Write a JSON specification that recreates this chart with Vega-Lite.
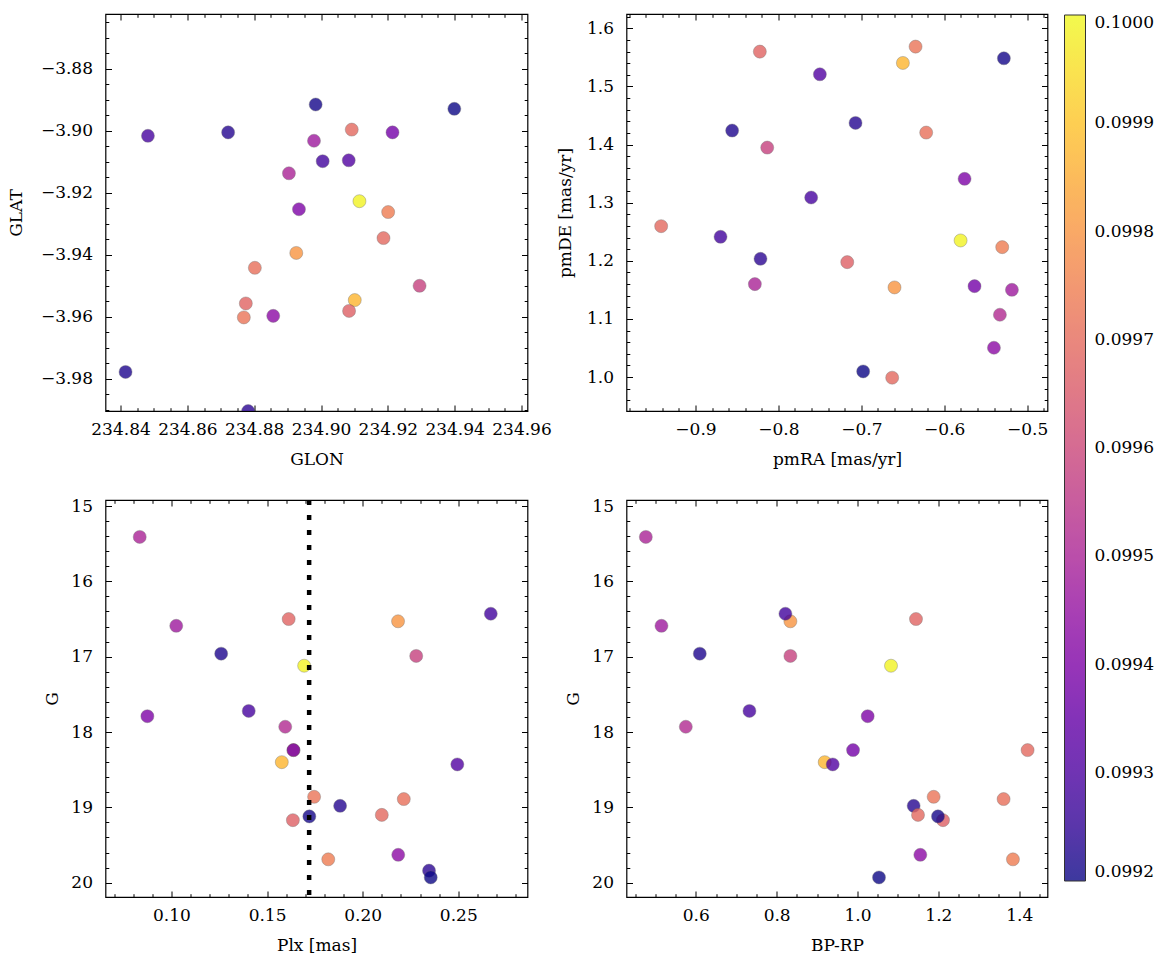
{
  "$schema": "https://vega.github.io/schema/vega-lite/v6.json",
  "background": "white",
  "padding": {"left": 6.5, "top": 7, "right": 5, "bottom": 5},
  "config": {
    "view": {"stroke": "black", "strokeWidth": 1.2},
    "axis": {
      "domain": false, "grid": false,
      "tickColor": "black", "tickWidth": 1, "tickSize": -6,
      "labelFont": "DejaVu Serif", "labelFontSize": 17, "labelColor": "black",
      "titleFont": "DejaVu Serif", "titleFontSize": 17, "titleFontWeight": "normal", "titleColor": "black",
      "labelFlush": false, "labelOverlap": false
    },
    "axisX": {"labelPadding": 16.6, "titlePadding": 14},
    "axisY": {"labelPadding": 19, "titlePadding": 12},
    "legend": {"labelFont": "DejaVu Serif", "labelFontSize": 17, "labelColor": "black"}
  },
  "datasets": {
    "stars": [
      {"id": 1, "GLON": 234.8904, "GLAT": -3.9137, "pmRA": -0.8284, "pmDE": 1.1599, "Plx": 0.0834, "G": 15.41, "BPRP": 0.4764, "c": 0.09950},
      {"id": 2, "GLON": 234.8979, "GLAT": -3.9032, "pmRA": -0.5184, "pmDE": 1.1501, "Plx": 0.1025, "G": 16.59, "BPRP": 0.5151, "c": 0.09947},
      {"id": 3, "GLON": 234.8415, "GLAT": -3.9778, "pmRA": -0.8558, "pmDE": 1.4241, "Plx": 0.1260, "G": 16.96, "BPRP": 0.6099, "c": 0.09922},
      {"id": 4, "GLON": 234.8934, "GLAT": -3.9253, "pmRA": -0.5755, "pmDE": 1.3410, "Plx": 0.0874, "G": 17.79, "BPRP": 1.0252, "c": 0.09940},
      {"id": 5, "GLON": 234.8482, "GLAT": -3.9016, "pmRA": -0.7605, "pmDE": 1.3089, "Plx": 0.1404, "G": 17.72, "BPRP": 0.7327, "c": 0.09929},
      {"id": 6, "GLON": 234.8775, "GLAT": -3.9557, "pmRA": -0.8224, "pmDE": 1.5599, "Plx": 0.1613, "G": 16.50, "BPRP": 1.1447, "c": 0.09968},
      {"id": 7, "GLON": 234.9115, "GLAT": -3.9227, "pmRA": -0.5803, "pmDE": 1.2350, "Plx": 0.1694, "G": 17.12, "BPRP": 1.0829, "c": 0.09999},
      {"id": 8, "GLON": 234.8890, "GLAT": -3.9980, "pmRA": -0.5329, "pmDE": 1.1072, "Plx": 0.1595, "G": 17.93, "BPRP": 0.5753, "c": 0.09952},
      {"id": 25, "GLON": 234.9187, "GLAT": -3.9346, "pmRA": -0.6628, "pmDE": 0.9989, "Plx": 0.1638, "G": 18.24, "BPRP": 1.4208, "c": 0.09969},
      {"id": 9, "GLON": 234.9214, "GLAT": -3.9005, "pmRA": -0.5635, "pmDE": 1.1564, "Plx": 0.1638, "G": 18.24, "BPRP": 0.9890, "c": 0.09938},
      {"id": 10, "GLON": 234.9101, "GLAT": -3.9546, "pmRA": -0.6499, "pmDE": 1.5404, "Plx": 0.1577, "G": 18.40, "BPRP": 0.9189, "c": 0.09987},
      {"id": 11, "GLON": 234.8926, "GLAT": -3.9394, "pmRA": -0.6600, "pmDE": 1.1542, "Plx": 0.2185, "G": 16.53, "BPRP": 0.8340, "c": 0.09980},
      {"id": 12, "GLON": 234.9295, "GLAT": -3.9500, "pmRA": -0.8135, "pmDE": 1.3948, "Plx": 0.2280, "G": 16.99, "BPRP": 0.8340, "c": 0.09958},
      {"id": 13, "GLON": 234.9005, "GLAT": -3.9098, "pmRA": -0.8698, "pmDE": 1.2413, "Plx": 0.2670, "G": 16.43, "BPRP": 0.8217, "c": 0.09928},
      {"id": 14, "GLON": 234.9083, "GLAT": -3.9095, "pmRA": -0.7500, "pmDE": 1.5209, "Plx": 0.2495, "G": 18.43, "BPRP": 0.9387, "c": 0.09931},
      {"id": 15, "GLON": 234.8769, "GLAT": -3.9602, "pmRA": -0.6346, "pmDE": 1.5685, "Plx": 0.1746, "G": 18.86, "BPRP": 1.1884, "c": 0.09972},
      {"id": 16, "GLON": 234.8722, "GLAT": -3.9005, "pmRA": -0.7070, "pmDE": 1.4372, "Plx": 0.1882, "G": 18.98, "BPRP": 1.1389, "c": 0.09923},
      {"id": 17, "GLON": 234.8802, "GLAT": -3.9442, "pmRA": -0.6218, "pmDE": 1.4206, "Plx": 0.2215, "G": 18.89, "BPRP": 1.3614, "c": 0.09971},
      {"id": 18, "GLON": 234.9092, "GLAT": -3.8996, "pmRA": -0.9414, "pmDE": 1.2596, "Plx": 0.2100, "G": 19.10, "BPRP": 1.1497, "c": 0.09969},
      {"id": 19, "GLON": 234.9084, "GLAT": -3.9581, "pmRA": -0.7170, "pmDE": 1.1977, "Plx": 0.1635, "G": 19.17, "BPRP": 1.2115, "c": 0.09967},
      {"id": 20, "GLON": 234.8984, "GLAT": -3.8915, "pmRA": -0.5281, "pmDE": 1.5484, "Plx": 0.1721, "G": 19.12, "BPRP": 1.1991, "c": 0.09921},
      {"id": 21, "GLON": 234.9201, "GLAT": -3.9262, "pmRA": -0.5301, "pmDE": 1.2235, "Plx": 0.1820, "G": 19.69, "BPRP": 1.3845, "c": 0.09974},
      {"id": 22, "GLON": 234.8857, "GLAT": -3.9597, "pmRA": -0.5401, "pmDE": 1.0504, "Plx": 0.2186, "G": 19.63, "BPRP": 1.1554, "c": 0.09943},
      {"id": 23, "GLON": 234.8782, "GLAT": -3.9904, "pmRA": -0.8216, "pmDE": 1.2034, "Plx": 0.2347, "G": 19.84, "BPRP": null, "c": 0.09924},
      {"id": 24, "GLON": 234.9399, "GLAT": -3.8929, "pmRA": -0.6978, "pmDE": 1.0097, "Plx": 0.2356, "G": 19.93, "BPRP": 1.0532, "c": 0.09920}
    ],
    "cut": [{"Plx_cut": 0.172}]
  },
  "bounds": "flush",
  "columns": 2,
  "spacing": {"row": 89, "column": 99},
  "concat": [
    {
      "width": 422, "height": 397,
      "data": {"name": "stars"},
      "layer": [
        {
          "mark": {"type": "circle", "size": 170, "opacity": 0.8, "stroke": "#555555", "strokeWidth": 0.4, "clip": true},
          "encoding": {
            "x": {"field": "GLON", "type": "quantitative", "scale": {"domain": [234.8355, 234.9618], "nice": false, "zero": false},
              "axis": {"title": "GLON", "orient": "bottom",
                "values": [234.84,234.845,234.85,234.855,234.86,234.865,234.87,234.875,234.88,234.885,234.89,234.895,234.9,234.905,234.91,234.915,234.92,234.925,234.93,234.935,234.94,234.945,234.95,234.955,234.96],
                "labelExpr": "abs(datum.value*50 - round(datum.value*50)) < 0.001 ? format(datum.value, '.2f') : ''",
                "tickDash": {"condition": {"test": "abs(datum.value*50 - round(datum.value*50)) > 0.001", "value": [3.3, 30]}, "value": []}}},
            "y": {"field": "GLAT", "type": "quantitative", "scale": {"domain": [-3.9904, -3.8623], "nice": false, "zero": false},
              "axis": {"title": "GLAT", "orient": "left", "titlePadding": 14.5,
                "values": [-3.865,-3.87,-3.875,-3.88,-3.885,-3.89,-3.895,-3.9,-3.905,-3.91,-3.915,-3.92,-3.925,-3.93,-3.935,-3.94,-3.945,-3.95,-3.955,-3.96,-3.965,-3.97,-3.975,-3.98,-3.985,-3.99],
                "labelExpr": "abs(datum.value*50 - round(datum.value*50)) < 0.001 ? format(datum.value, '.2f') : ''",
                "tickDash": {"condition": {"test": "abs(datum.value*50 - round(datum.value*50)) > 0.001", "value": [3.3, 30]}, "value": []}}},
            "color": {"field": "c", "type": "quantitative", "scale": {"scheme": "plasma", "domain": [0.0992, 0.1]},
              "legend": {"title": null, "orient": "none", "legendX": 959, "legendY": 1, "direction": "vertical", "gradientLength": 866, "gradientThickness": 21,
                "values": [0.0992,0.0993,0.0994,0.0995,0.0996,0.0997,0.0998,0.0999,0.1], "format": ".4f",
                "gradientStrokeColor": "black", "gradientStrokeWidth": 1, "labelOffset": 9, "labelBaseline": "middle"}}
          }
        },
        {
          "mark": {"type": "circle", "opacity": 0},
          "encoding": {
            "x": {"field": "GLON", "type": "quantitative", "scale": {"domain": [234.8355, 234.9618], "nice": false, "zero": false},
              "axis": {"title": null, "orient": "top", "labels": false,
                "values": [234.84,234.845,234.85,234.855,234.86,234.865,234.87,234.875,234.88,234.885,234.89,234.895,234.9,234.905,234.91,234.915,234.92,234.925,234.93,234.935,234.94,234.945,234.95,234.955,234.96],
                "tickDash": {"condition": {"test": "abs(datum.value*50 - round(datum.value*50)) > 0.001", "value": [3.3, 30]}, "value": []}}},
            "y": {"field": "GLAT", "type": "quantitative", "scale": {"domain": [-3.9904, -3.8623], "nice": false, "zero": false},
              "axis": {"title": null, "orient": "right", "labels": false,
                "values": [-3.865,-3.87,-3.875,-3.88,-3.885,-3.89,-3.895,-3.9,-3.905,-3.91,-3.915,-3.92,-3.925,-3.93,-3.935,-3.94,-3.945,-3.95,-3.955,-3.96,-3.965,-3.97,-3.975,-3.98,-3.985,-3.99],
                "tickDash": {"condition": {"test": "abs(datum.value*50 - round(datum.value*50)) > 0.001", "value": [3.3, 30]}, "value": []}}}
          }
        }
      ],
      "resolve": {"axis": {"x": "independent", "y": "independent"}}
    },
    {
      "width": 421, "height": 397,
      "data": {"name": "stars"},
      "layer": [
        {
          "mark": {"type": "circle", "size": 170, "opacity": 0.8, "stroke": "#555555", "strokeWidth": 0.4, "clip": true},
          "encoding": {
            "x": {"field": "pmRA", "type": "quantitative", "scale": {"domain": [-0.9832, -0.4755], "nice": false, "zero": false},
              "axis": {"title": "pmRA [mas/yr]", "orient": "bottom",
                "values": [-0.98,-0.96,-0.94,-0.92,-0.9,-0.88,-0.86,-0.84,-0.82,-0.8,-0.78,-0.76,-0.74,-0.72,-0.7,-0.68,-0.66,-0.64,-0.62,-0.6,-0.58,-0.56,-0.54,-0.52,-0.5,-0.48],
                "labelExpr": "abs(datum.value*10 - round(datum.value*10)) < 0.001 ? format(datum.value, '.1f') : ''",
                "tickDash": {"condition": {"test": "abs(datum.value*10 - round(datum.value*10)) > 0.001", "value": [3.3, 30]}, "value": []}}},
            "y": {"field": "pmDE", "type": "quantitative", "scale": {"domain": [0.9416, 1.6246], "nice": false, "zero": false},
              "axis": {"title": "pmDE [mas/yr]", "orient": "left", "titlePadding": 12,
                "values": [0.96,0.98,1.0,1.02,1.04,1.06,1.08,1.1,1.12,1.14,1.16,1.18,1.2,1.22,1.24,1.26,1.28,1.3,1.32,1.34,1.36,1.38,1.4,1.42,1.44,1.46,1.48,1.5,1.52,1.54,1.56,1.58,1.6,1.62],
                "labelExpr": "abs(datum.value*10 - round(datum.value*10)) < 0.001 ? format(datum.value, '.1f') : ''",
                "tickDash": {"condition": {"test": "abs(datum.value*10 - round(datum.value*10)) > 0.001", "value": [3.3, 30]}, "value": []}}},
            "color": {"field": "c", "type": "quantitative", "scale": {"scheme": "plasma", "domain": [0.0992, 0.1]}}
          }
        },
        {
          "mark": {"type": "circle", "opacity": 0},
          "encoding": {
            "x": {"field": "pmRA", "type": "quantitative", "scale": {"domain": [-0.9832, -0.4755], "nice": false, "zero": false},
              "axis": {"title": null, "orient": "top", "labels": false,
                "values": [-0.98,-0.96,-0.94,-0.92,-0.9,-0.88,-0.86,-0.84,-0.82,-0.8,-0.78,-0.76,-0.74,-0.72,-0.7,-0.68,-0.66,-0.64,-0.62,-0.6,-0.58,-0.56,-0.54,-0.52,-0.5,-0.48],
                "tickDash": {"condition": {"test": "abs(datum.value*10 - round(datum.value*10)) > 0.001", "value": [3.3, 30]}, "value": []}}},
            "y": {"field": "pmDE", "type": "quantitative", "scale": {"domain": [0.9416, 1.6246], "nice": false, "zero": false},
              "axis": {"title": null, "orient": "right", "labels": false,
                "values": [0.96,0.98,1.0,1.02,1.04,1.06,1.08,1.1,1.12,1.14,1.16,1.18,1.2,1.22,1.24,1.26,1.28,1.3,1.32,1.34,1.36,1.38,1.4,1.42,1.44,1.46,1.48,1.5,1.52,1.54,1.56,1.58,1.6,1.62],
                "tickDash": {"condition": {"test": "abs(datum.value*10 - round(datum.value*10)) > 0.001", "value": [3.3, 30]}, "value": []}}}
          }
        }
      ],
      "resolve": {"axis": {"x": "independent", "y": "independent"}}
    },
    {
      "width": 422, "height": 397,
      "layer": [
        {
          "data": {"name": "stars"},
          "mark": {"type": "circle", "size": 170, "opacity": 0.8, "stroke": "#555555", "strokeWidth": 0.4, "clip": true},
          "encoding": {
            "x": {"field": "Plx", "type": "quantitative", "scale": {"domain": [0.0655, 0.2862], "nice": false, "zero": false},
              "axis": {"title": "Plx [mas]", "orient": "bottom",
                "values": [0.07,0.08,0.09,0.1,0.11,0.12,0.13,0.14,0.15,0.16,0.17,0.18,0.19,0.2,0.21,0.22,0.23,0.24,0.25,0.26,0.27,0.28],
                "labelExpr": "abs(datum.value*20 - round(datum.value*20)) < 0.001 ? format(datum.value, '.2f') : ''",
                "tickDash": {"condition": {"test": "abs(datum.value*20 - round(datum.value*20)) > 0.001", "value": [3.3, 30]}, "value": []}}},
            "y": {"field": "G", "type": "quantitative", "scale": {"domain": [20.19, 14.92], "nice": false, "zero": false},
              "axis": {"title": "G", "orient": "left", "titlePadding": 9.5,
                "values": [15,15.2,15.4,15.6,15.8,16,16.2,16.4,16.6,16.8,17,17.2,17.4,17.6,17.8,18,18.2,18.4,18.6,18.8,19,19.2,19.4,19.6,19.8,20],
                "labelExpr": "abs(datum.value - round(datum.value)) < 0.001 ? format(datum.value, 'd') : ''",
                "tickDash": {"condition": {"test": "abs(datum.value - round(datum.value)) > 0.001", "value": [3.3, 30]}, "value": []}}},
            "color": {"field": "c", "type": "quantitative", "scale": {"scheme": "plasma", "domain": [0.0992, 0.1]}}
          }
        },
        {
          "data": {"name": "cut"},
          "mark": {"type": "rule", "color": "black", "strokeWidth": 4.5, "strokeDash": [5, 10]},
          "encoding": {
            "x": {"field": "Plx_cut", "type": "quantitative", "scale": {"domain": [0.0655, 0.2862], "nice": false, "zero": false}, "axis": null}
          }
        },
        {
          "data": {"name": "stars"},
          "mark": {"type": "circle", "opacity": 0},
          "encoding": {
            "x": {"field": "Plx", "type": "quantitative", "scale": {"domain": [0.0655, 0.2862], "nice": false, "zero": false},
              "axis": {"title": null, "orient": "top", "labels": false,
                "values": [0.07,0.08,0.09,0.1,0.11,0.12,0.13,0.14,0.15,0.16,0.17,0.18,0.19,0.2,0.21,0.22,0.23,0.24,0.25,0.26,0.27,0.28],
                "tickDash": {"condition": {"test": "abs(datum.value*20 - round(datum.value*20)) > 0.001", "value": [3.3, 30]}, "value": []}}},
            "y": {"field": "G", "type": "quantitative", "scale": {"domain": [20.19, 14.92], "nice": false, "zero": false},
              "axis": {"title": null, "orient": "right", "labels": false,
                "values": [15,15.2,15.4,15.6,15.8,16,16.2,16.4,16.6,16.8,17,17.2,17.4,17.6,17.8,18,18.2,18.4,18.6,18.8,19,19.2,19.4,19.6,19.8,20],
                "tickDash": {"condition": {"test": "abs(datum.value - round(datum.value)) > 0.001", "value": [3.3, 30]}, "value": []}}}
          }
        }
      ],
      "resolve": {"axis": {"x": "independent", "y": "independent"}}
    },
    {
      "width": 421, "height": 397,
      "data": {"name": "stars"},
      "layer": [
        {
          "mark": {"type": "circle", "size": 170, "opacity": 0.8, "stroke": "#555555", "strokeWidth": 0.4, "clip": true},
          "encoding": {
            "x": {"field": "BPRP", "type": "quantitative", "scale": {"domain": [0.4286, 1.47], "nice": false, "zero": false},
              "axis": {"title": "BP-RP", "orient": "bottom",
                "values": [0.45,0.5,0.55,0.6,0.65,0.7,0.75,0.8,0.85,0.9,0.95,1.0,1.05,1.1,1.15,1.2,1.25,1.3,1.35,1.4,1.45],
                "labelExpr": "abs(datum.value*5 - round(datum.value*5)) < 0.001 ? format(datum.value, '.1f') : ''",
                "tickDash": {"condition": {"test": "abs(datum.value*5 - round(datum.value*5)) > 0.001", "value": [3.3, 30]}, "value": []}}},
            "y": {"field": "G", "type": "quantitative", "scale": {"domain": [20.19, 14.92], "nice": false, "zero": false},
              "axis": {"title": "G", "orient": "left", "titlePadding": 9.5,
                "values": [15,15.2,15.4,15.6,15.8,16,16.2,16.4,16.6,16.8,17,17.2,17.4,17.6,17.8,18,18.2,18.4,18.6,18.8,19,19.2,19.4,19.6,19.8,20],
                "labelExpr": "abs(datum.value - round(datum.value)) < 0.001 ? format(datum.value, 'd') : ''",
                "tickDash": {"condition": {"test": "abs(datum.value - round(datum.value)) > 0.001", "value": [3.3, 30]}, "value": []}}},
            "color": {"field": "c", "type": "quantitative", "scale": {"scheme": "plasma", "domain": [0.0992, 0.1]}}
          }
        },
        {
          "mark": {"type": "circle", "opacity": 0},
          "encoding": {
            "x": {"field": "BPRP", "type": "quantitative", "scale": {"domain": [0.4286, 1.47], "nice": false, "zero": false},
              "axis": {"title": null, "orient": "top", "labels": false,
                "values": [0.45,0.5,0.55,0.6,0.65,0.7,0.75,0.8,0.85,0.9,0.95,1.0,1.05,1.1,1.15,1.2,1.25,1.3,1.35,1.4,1.45],
                "tickDash": {"condition": {"test": "abs(datum.value*5 - round(datum.value*5)) > 0.001", "value": [3.3, 30]}, "value": []}}},
            "y": {"field": "G", "type": "quantitative", "scale": {"domain": [20.19, 14.92], "nice": false, "zero": false},
              "axis": {"title": null, "orient": "right", "labels": false,
                "values": [15,15.2,15.4,15.6,15.8,16,16.2,16.4,16.6,16.8,17,17.2,17.4,17.6,17.8,18,18.2,18.4,18.6,18.8,19,19.2,19.4,19.6,19.8,20],
                "tickDash": {"condition": {"test": "abs(datum.value - round(datum.value)) > 0.001", "value": [3.3, 30]}, "value": []}}}
          }
        }
      ],
      "resolve": {"axis": {"x": "independent", "y": "independent"}}
    }
  ]
}
